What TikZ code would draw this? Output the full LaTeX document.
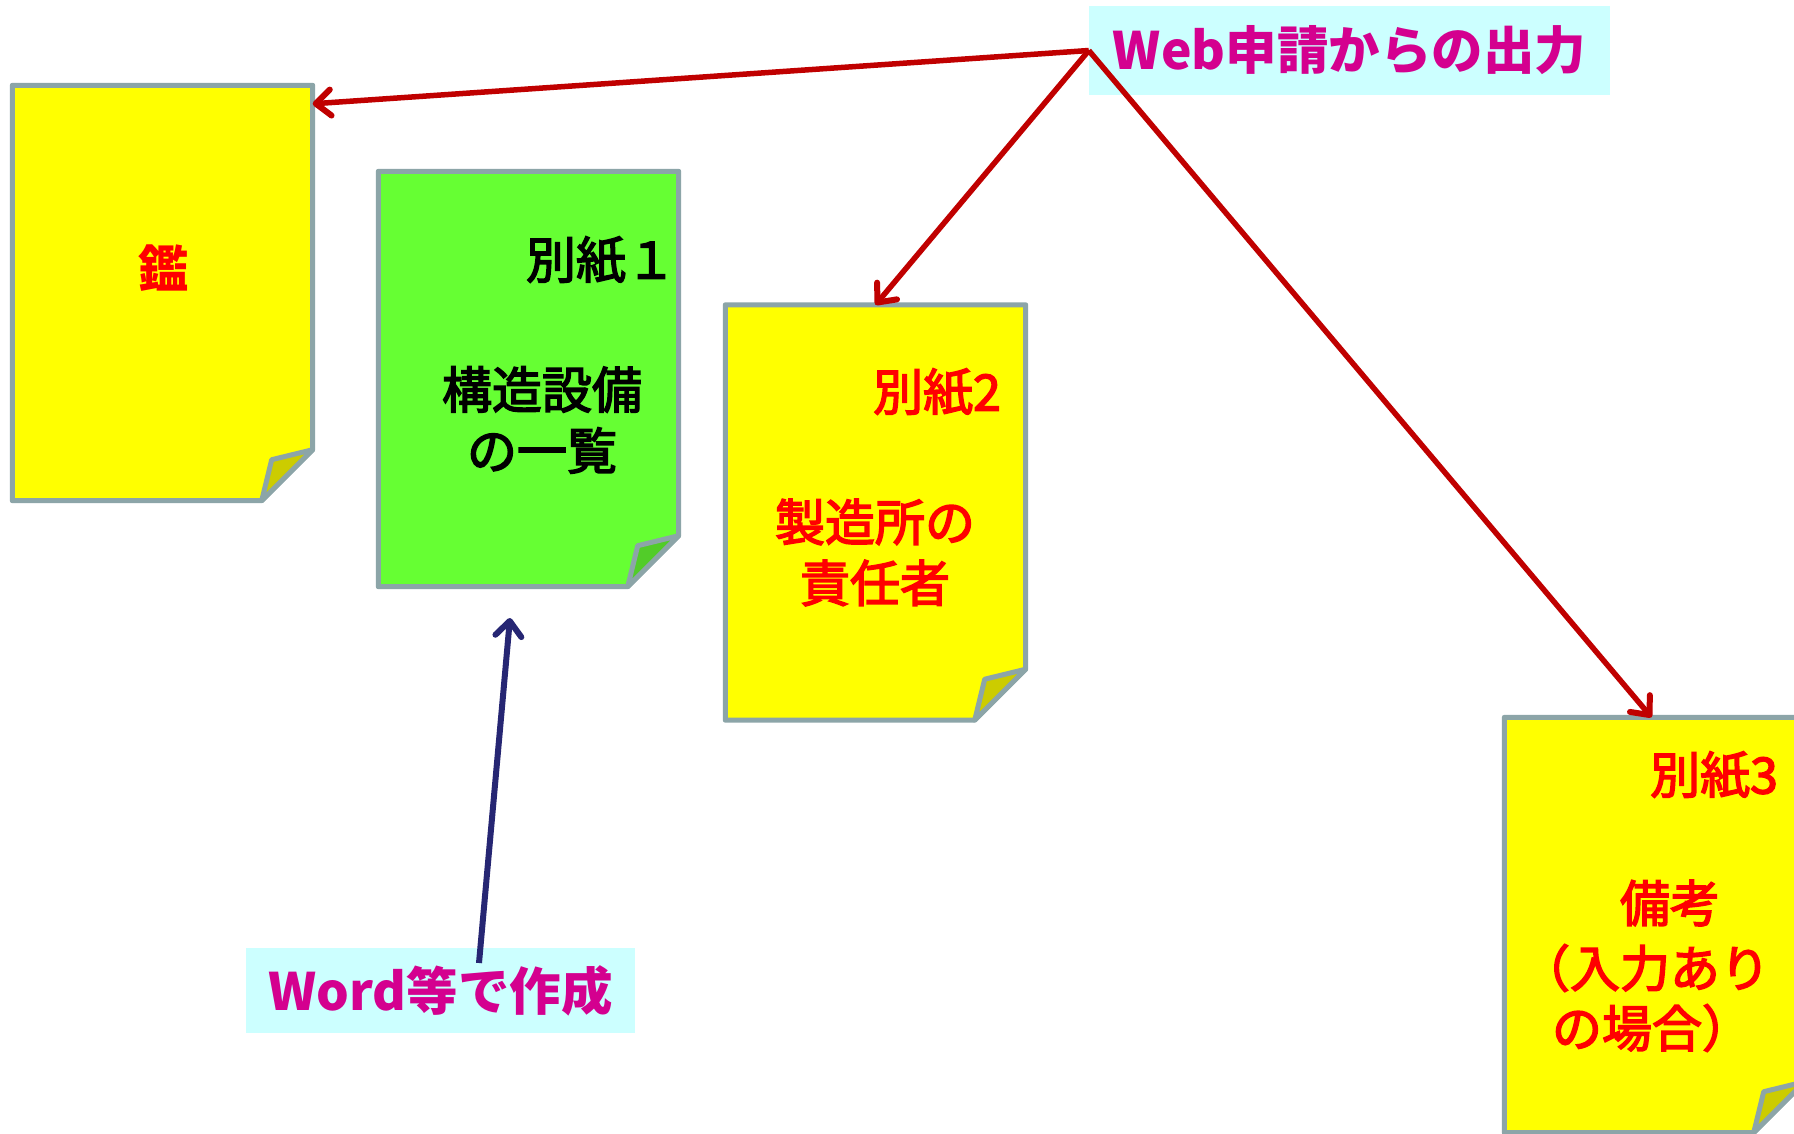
\documentclass[tikz,border=0pt]{standalone}
\usepackage{fontspec}
\newfontfamily\jp{Noto Sans CJK JP}
\newfontfamily\jpm[FakeBold=3]{Noto Sans CJK JP}
\usetikzlibrary{arrows.meta}
\definecolor{pgray}{RGB}{140,165,168}
\definecolor{pyellow}{RGB}{255,255,0}
\definecolor{pyfold}{RGB}{204,204,0}
\definecolor{pgreen}{RGB}{102,255,51}
\definecolor{pgfold}{RGB}{82,204,41}
\definecolor{tred}{RGB}{255,0,0}
\definecolor{ared}{RGB}{192,0,0}
\definecolor{anavy}{RGB}{38,38,115}
\definecolor{lmag}{RGB}{212,0,143}
\definecolor{lcyan}{RGB}{204,255,255}
\tikzset{
  pagenode/.style={draw=none, inner sep=0pt, minimum width=300pt, minimum height=415pt},
  paperline/.style={draw=pgray, line width=5pt, line join=round},
  bigtext/.style={font=\jpm\fontsize{50}{61}\selectfont, inner sep=0pt, align=center},
  labelbox/.style={fill=lcyan, text=lmag, font=\jp\bfseries\fontsize{51.5}{60}\selectfont, inner sep=0pt},
  redarrow/.style={draw=ared, line width=5.5pt, -{Straight Barb[length=15pt,width=26pt,line width=6pt,line cap=round,line join=round]}},
  navyarrow/.style={draw=anavy, line width=6pt, -{Straight Barb[length=15pt,width=26pt,line width=6pt,line cap=round,line join=round]}},
}
\newcommand\docpage[3]{%
  \path[paperline, fill=#2] (#1.north west) -- (#1.north east) -- ([yshift=51pt]#1.south east)
     -- ([xshift=-51pt]#1.south east) -- (#1.south west) -- cycle;
  \path[paperline, fill=#3] ([yshift=51pt]#1.south east) -- ([xshift=-41pt,yshift=41pt]#1.south east)
     -- ([xshift=-51pt]#1.south east) -- cycle;
}
\begin{document}
\begin{tikzpicture}[x=1pt,y=-1pt]
\useasboundingbox (0,0) rectangle (1794,1133);
\clip (0,0) rectangle (1794,1133);
\fill[white] (0,0) rectangle (1794,1133);

% pages
\node[pagenode] (p1) at (162.5,293) {};
\node[pagenode] (p2) at (528.5,379) {};
\node[pagenode] (p3) at (875.5,512.5) {};
\node[pagenode] (p4) at (1654.5,925) {};
\docpage{p1}{pyellow}{pyfold}
\docpage{p2}{pgreen}{pgfold}
\docpage{p3}{pyellow}{pyfold}
\docpage{p4}{pyellow}{pyfold}

% page texts
\node[bigtext, text=tred, font=\jp\bfseries\fontsize{50}{61}\selectfont] (t1) at (163,268) {鑑};
\node[bigtext, text=black] (t2a) at (601,260) {別紙１};
\node[bigtext, text=black] (t2b) at (542,420) {構造設備\\の一覧};
\node[bigtext, text=tred] (t3a) at (937,392) {別紙2};
\node[bigtext, text=tred] (t3b) at (875,552.5) {製造所の\\責任者};
\node[bigtext, text=tred] (t4a) at (1714,775) {別紙3};
\node[bigtext, text=tred] (t4b) at (1670,903) {備考};
\node[bigtext, text=tred] (t4c) at (1645,968) {（入力あり};
\node[bigtext, text=tred] (t4d) at (1652,1028) {の場合）};

% labels
\node[labelbox, minimum width=521pt, minimum height=89pt] (web) at (1349.5,50.5) {Web申請からの出力};
\node[labelbox, minimum width=389pt, minimum height=85pt] (word) at (440.5,990.5) {Word等で作成};

% connectors
\draw[redarrow] (web.west) -- ([yshift=-18.5pt]p1.north east);
\draw[redarrow] (web.west) -- (p3.north);
\draw[redarrow] (web.west) -- ([xshift=-3pt]p4.north);
\coordinate (wstart) at (479,963);
\coordinate (wtip) at (510,618);
\draw[navyarrow] (wstart) -- (wtip);
\end{tikzpicture}
\end{document}
